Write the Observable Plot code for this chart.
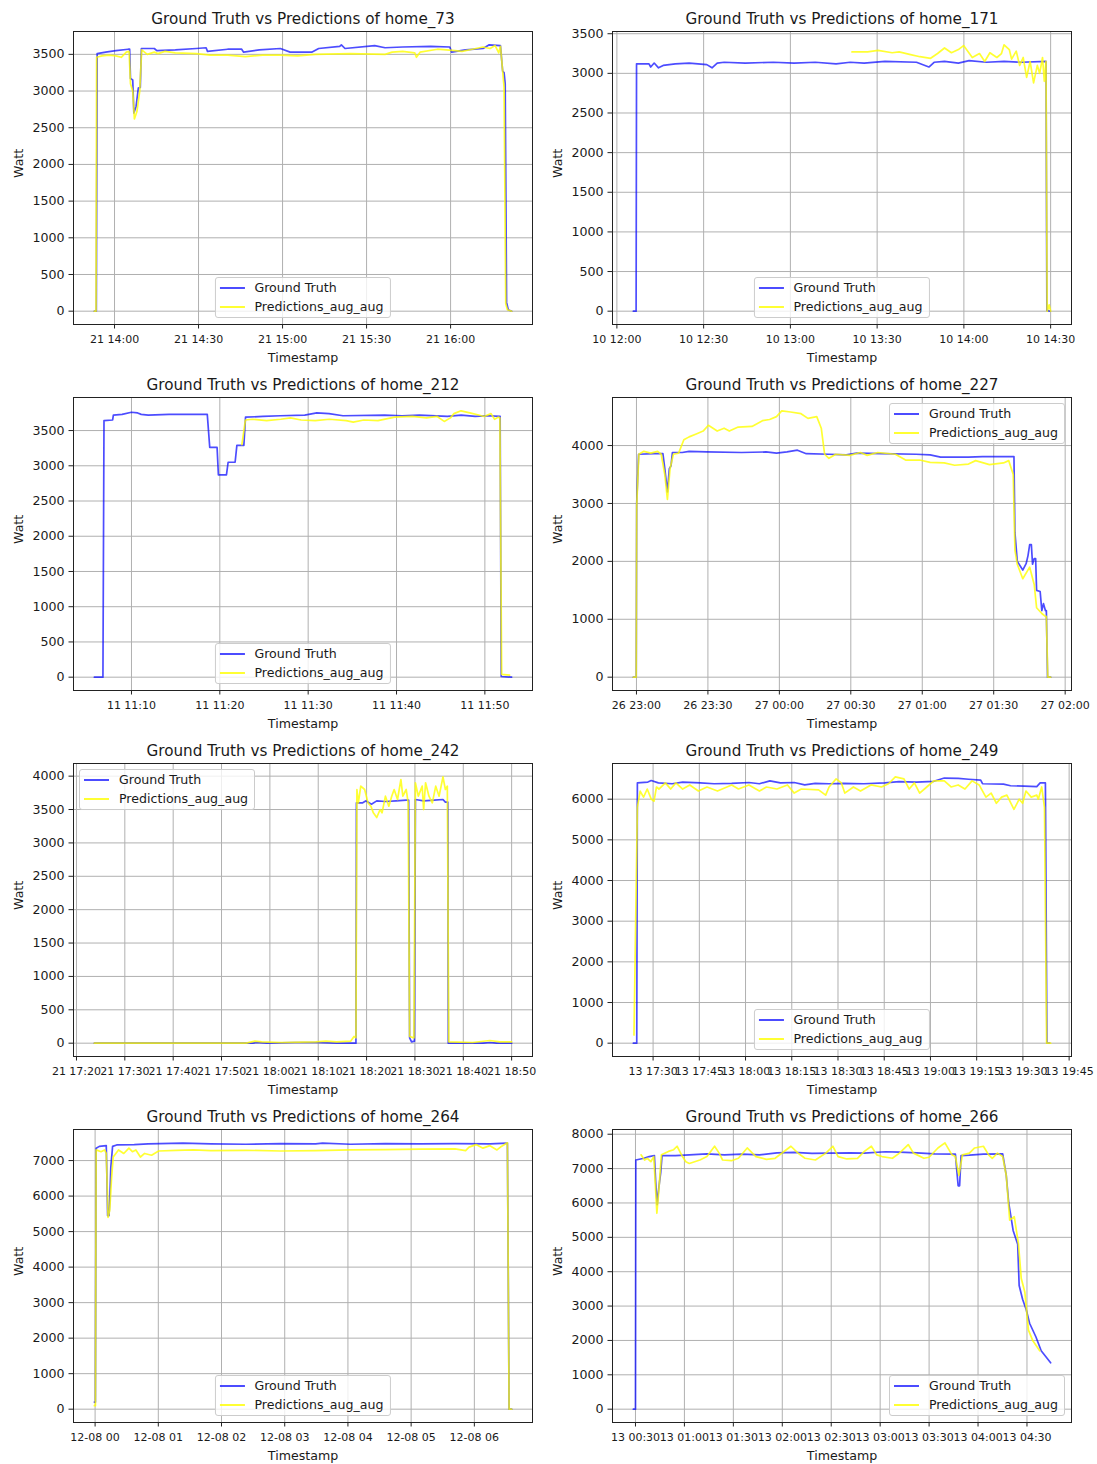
<!DOCTYPE html>
<html>
<head>
<meta charset="utf-8">
<script src="https://cdn.jsdelivr.net/npm/d3@7"></script>
<script src="https://cdn.jsdelivr.net/npm/@observablehq/plot@0.6"></script>
<style>
  body { margin: 0; background: #fff; font-family: "DejaVu Sans", sans-serif; }
  #grid { position: relative; width: 1097px; height: 1464px; }
  .panel { position: absolute; height: 366px; }
  .panel svg { display: block; }
  .legend {
    position: absolute; box-sizing: border-box;
    background: rgba(255,255,255,0.8); border: 1px solid #cccccc; border-radius: 3px;
    padding: 0 6px 1px 4px; font-size: 12.6px; color: #1a1a1a; white-space: nowrap;
  }
  .legend .row { display: flex; align-items: center; height: 19px; }
  .legend .swatch { display: inline-block; width: 25px; height: 0; border-top: 2px solid; margin-right: 10px; }
</style>
</head>
<body>
<div id="grid"></div>
<script>
// Series are [minutes after the panel's base time, watts].
const homes = ["home_73", "home_171", "home_212", "home_227", "home_242", "home_249", "home_264", "home_266"];
const baseTimes = [
  "2023-03-21T13:00:00Z", "2023-03-10T12:00:00Z", "2023-03-11T11:00:00Z", "2023-03-26T22:00:00Z",
  "2023-03-21T17:00:00Z", "2023-03-13T17:00:00Z", "2023-12-08T00:00:00Z", "2023-03-13T00:00:00Z"
];

const home73Truth = [[52.8,0],[53.5,0],[53.8,3510],[56.8,3530],[60.5,3550],[64.9,3570],[65.4,3570],[65.7,3170],[66.5,3150],[66.9,2700],[67.7,2790],[68.5,3040],[69.2,3050],[69.6,3580],[74.2,3580],[75.1,3550],[81.7,3560],[89.2,3580],[92.7,3590],[93.2,3540],[100.4,3570],[105.4,3570],[106.1,3530],[111.7,3560],[119.2,3580],[122.7,3530],[130.4,3530],[132.9,3580],[140.4,3610],[141.0,3630],[142.3,3580],[152.9,3620],[156.6,3590],[162.9,3600],[172.9,3610],[179.7,3600],[180.4,3530],[185.3,3560],[191.6,3580],[193.8,3630],[197.8,3620],[198.6,3270],[199.1,3250],[199.5,3100],[200.0,120],[200.6,20],[201.8,0]];
const home73Pred = [[52.8,0],[53.4,0],[53.6,3460],[55.5,3480],[58.0,3490],[60.5,3480],[62.4,3460],[64.2,3530],[65.2,3540],[65.7,3100],[66.5,3000],[67.1,2620],[68.0,2720],[69.0,3000],[69.7,3560],[71.7,3500],[74.2,3530],[75.5,3510],[78.0,3540],[81.7,3520],[89.2,3510],[94.2,3490],[100.4,3490],[106.7,3470],[112.9,3490],[119.2,3490],[125.4,3480],[131.7,3500],[144.1,3510],[156.6,3500],[159.1,3530],[162.9,3540],[167.2,3520],[167.8,3460],[169.1,3530],[175.3,3570],[181.6,3550],[184.1,3540],[187.8,3570],[191.6,3600],[194.1,3580],[195.9,3620],[197.2,3520],[197.8,3610],[198.3,3400],[199.1,3050],[199.7,100],[200.3,20],[201.8,0]];

const home171Truth = [[5.7,0],[6.65,0],[6.8,3120],[11.1,3120],[11.7,3080],[12.9,3130],[14.4,3070],[16.0,3100],[20.2,3120],[25.0,3130],[31.1,3110],[32.9,3070],[34.7,3130],[37.1,3140],[44.4,3130],[54.1,3140],[61.3,3130],[68.6,3140],[75.8,3120],[80.7,3140],[85.5,3130],[92.7,3150],[103.6,3140],[107.9,3080],[109.7,3140],[113.3,3150],[118.1,3130],[121.8,3160],[127.8,3140],[133.9,3150],[139.9,3140],[148.4,3150],[148.7,10],[149.8,0]];
const home171Pred = [[81.3,3270],[86.7,3270],[90.3,3290],[95.2,3260],[97.6,3270],[101.2,3240],[104.8,3210],[108.5,3190],[110.9,3250],[113.3,3320],[115.7,3260],[118.1,3300],[119.9,3350],[122.9,3200],[125.4,3250],[127.2,3150],[129.0,3260],[131.4,3200],[133.0,3250],[133.9,3360],[135.7,3300],[136.5,3180],[138.1,3280],[139.3,3100],[140.5,3200],[141.7,2950],[142.9,3150],[144.1,2880],[145.4,3100],[146.2,3000],[147.2,3200],[147.8,2900],[148.4,3150],[148.8,0],[149.5,80],[150.0,0]];

const home212Truth = [[5.8,0],[6.77,0],[6.89,3640],[7.87,3650],[7.95,3720],[8.94,3730],[10.0,3760],[10.7,3750],[11.1,3730],[11.9,3720],[14.25,3730],[18.58,3730],[18.86,3260],[19.69,3260],[19.84,2870],[20.75,2870],[20.94,3050],[21.73,3050],[21.93,3290],[22.72,3290],[22.91,3690],[24.88,3700],[26.85,3710],[29.61,3720],[30.98,3750],[32.36,3740],[33.94,3710],[38.66,3720],[40.63,3710],[42.6,3720],[45.75,3700],[47.32,3720],[48.9,3700],[50.47,3710],[51.73,3700],[51.85,10],[53.03,0]];
const home212Pred = [[22.5,3300],[22.9,3650],[23.7,3660],[25.3,3640],[26.9,3660],[28.0,3680],[29.2,3650],[30.8,3640],[32.4,3660],[34.3,3640],[35.1,3620],[36.3,3650],[37.9,3640],[39.8,3690],[41.8,3700],[43.4,3680],[44.6,3700],[45.4,3630],[46.1,3680],[46.5,3740],[47.3,3780],[48.3,3750],[49.3,3720],[49.9,3700],[50.7,3740],[51.1,3660],[51.5,3690],[51.7,3680],[51.9,40],[52.8,30]];

const home227Truth = [[58.7,0],[59.9,0],[60.1,3000],[60.9,3850],[67.5,3860],[71.1,3860],[71.9,3600],[73.0,3200],[73.8,3600],[74.5,3650],[75.1,3880],[79.2,3880],[82.1,3900],[89.5,3890],[104.1,3880],[114.4,3890],[118.8,3870],[123.2,3890],[127.6,3920],[131.3,3860],[140.8,3850],[148.1,3840],[152.5,3870],[162.8,3860],[177.4,3850],[183.3,3840],[187.7,3800],[199.4,3800],[205.3,3810],[218.5,3810],[218.9,2500],[219.9,2000],[222.2,1850],[223.6,1960],[224.4,2100],[225.1,2290],[225.8,2290],[226.3,1950],[227.0,2050],[227.6,2050],[228.0,1500],[229.5,1480],[230.2,1150],[230.9,1270],[231.7,1150],[232.1,1150],[232.6,0],[233.9,0]];
const home227Pred = [[58.7,0],[59.9,0],[60.1,2950],[61.0,3850],[63.1,3900],[66.0,3870],[68.9,3900],[70.4,3850],[71.9,3500],[73.0,3070],[74.1,3600],[75.5,3850],[77.7,3870],[79.9,4100],[82.1,4150],[85.1,4200],[88.0,4250],[90.2,4350],[93.9,4250],[96.8,4300],[99.0,4250],[102.7,4320],[108.5,4330],[112.9,4430],[115.9,4450],[118.8,4500],[121.0,4600],[124.7,4580],[129.1,4550],[132.0,4470],[135.7,4500],[137.6,4300],[139.0,3850],[140.8,3780],[143.7,3850],[149.6,3830],[154.0,3880],[156.9,3830],[161.3,3880],[168.7,3850],[173.0,3750],[178.9,3750],[183.3,3710],[189.2,3700],[193.6,3660],[199.4,3680],[202.4,3740],[208.2,3670],[214.1,3700],[216.3,3740],[218.2,3500],[218.9,2200],[219.9,1950],[222.2,1700],[225.1,1900],[227.0,1600],[228.0,1200],[230.2,1100],[231.7,1050],[232.1,1050],[232.7,0],[233.9,0]];

const home242Truth = [[23.7,0],[56.5,0],[57.2,10],[59.4,0],[65.2,10],[69.5,10],[73.8,0],[77.8,0],[77.9,3600],[79.2,3600],[79.9,3630],[81.0,3580],[82.1,3630],[83.9,3620],[86.1,3630],[88.2,3640],[88.7,3640],[88.9,80],[89.3,20],[89.9,30],[90.1,3650],[91.8,3630],[94.0,3640],[95.8,3650],[96.3,3610],[96.8,3610],[96.9,0],[104.1,0],[105.5,10],[106.9,0],[110.0,0]];
const home242Pred = [[23.7,0],[55.1,0],[56.9,30],[58.3,20],[62.3,10],[69.5,20],[71.6,30],[73.8,20],[76.7,30],[77.4,100],[77.8,80],[78.0,3800],[78.3,3600],[78.8,3850],[79.6,3800],[80.3,3600],[80.9,3550],[81.4,3450],[82.1,3380],[82.8,3500],[83.2,3450],[83.9,3700],[84.6,3550],[85.2,3700],[85.7,3800],[86.4,3650],[87.1,3950],[87.5,3700],[88.2,3800],[88.6,3600],[88.9,100],[89.8,80],[90.1,3900],[90.7,3700],[91.5,3850],[91.8,3500],[92.2,3900],[92.9,3700],[93.6,3600],[94.3,3850],[95.0,3700],[95.8,3990],[96.3,3800],[96.7,3850],[97.0,20],[101.9,10],[105.5,40],[107.6,20],[110.0,20]];

const home249Truth = [[23.6,0],[24.7,0],[24.9,6400],[28.3,6420],[29.4,6460],[31.7,6400],[36.2,6380],[39.6,6420],[45.3,6400],[49.8,6380],[55.5,6390],[61.1,6410],[64.5,6380],[67.9,6450],[71.3,6400],[75.8,6410],[79.2,6350],[82.6,6390],[87.1,6380],[91.7,6390],[98.4,6380],[105.2,6400],[109.8,6430],[115.4,6420],[121.1,6440],[124.5,6520],[129.0,6510],[132.4,6490],[136.3,6470],[136.9,6380],[143.7,6370],[146.0,6330],[150.5,6320],[154.5,6310],[155.6,6400],[157.3,6400],[157.8,0],[158.7,0]];
const home249Pred = [[23.8,200],[24.9,5800],[25.8,6200],[26.9,6050],[28.1,6250],[29.4,6000],[30.3,5950],[31.1,6300],[31.9,6250],[34.0,6400],[35.7,6250],[37.4,6400],[39.6,6250],[41.9,6350],[44.7,6200],[47.5,6300],[50.9,6200],[55.5,6350],[57.7,6250],[61.1,6350],[64.5,6200],[66.8,6300],[70.2,6250],[73.6,6350],[75.8,6150],[78.1,6250],[83.7,6230],[86.0,6100],[87.1,6300],[89.4,6500],[91.1,6400],[92.2,6150],[95.0,6300],[97.3,6200],[100.7,6350],[104.1,6300],[106.4,6380],[108.6,6550],[111.4,6500],[113.1,6250],[114.8,6400],[116.5,6150],[118.8,6300],[121.1,6450],[124.5,6450],[126.7,6300],[129.0,6350],[131.2,6250],[133.5,6450],[135.8,6350],[138.0,6050],[139.7,6150],[141.4,5900],[143.1,6050],[144.8,6100],[147.1,5750],[148.8,6000],[149.9,5900],[151.0,6200],[152.7,6050],[154.5,6100],[155.0,6000],[156.1,6300],[157.0,5800],[157.7,0],[159.0,0]];

const home264Truth = [[-0.7,200],[0.3,200],[1.0,7350],[4.0,7400],[10.6,7420],[11.3,6400],[11.9,5450],[13.2,5450],[13.9,5900],[14.9,6800],[16.6,7400],[20.5,7440],[37.1,7450],[50.3,7470],[83.4,7490],[109.9,7470],[143.0,7460],[176.2,7480],[209.3,7470],[215.9,7490],[242.4,7460],[275.5,7480],[308.6,7470],[341.7,7480],[374.8,7470],[391.4,7490],[393.0,0],[395.4,0]];
const home264Pred = [[-0.7,100],[0.3,100],[1.0,7300],[5.6,7250],[8.9,7300],[10.6,7200],[12.3,5400],[13.9,5600],[15.6,6500],[17.2,7100],[22.2,7300],[27.2,7200],[32.1,7350],[35.4,7250],[38.7,7300],[43.0,7100],[47.0,7200],[53.6,7150],[60.3,7270],[76.8,7290],[93.4,7300],[109.9,7280],[143.0,7290],[176.2,7270],[209.3,7280],[242.4,7300],[275.5,7310],[308.6,7320],[341.7,7330],[351.7,7280],[355.0,7380],[361.6,7450],[368.2,7350],[374.8,7420],[381.5,7300],[384.8,7380],[391.4,7500],[393.0,0],[395.4,0]];

const home266Truth = [[28.7,0],[30.0,0],[30.2,7250],[35.2,7300],[38.4,7350],[41.6,7380],[42.4,6600],[43.3,5950],[44.2,6400],[45.5,6900],[46.3,7380],[54.5,7380],[63.0,7400],[73.8,7430],[84.5,7400],[95.2,7420],[106.0,7400],[116.7,7460],[127.4,7470],[138.2,7440],[148.9,7450],[161.8,7460],[170.3,7450],[183.2,7490],[191.8,7480],[202.5,7460],[213.3,7430],[226.1,7420],[227.8,6500],[228.7,6500],[229.6,7380],[234.7,7390],[243.3,7420],[255.1,7430],[257.3,6800],[258.8,6000],[261.5,5200],[264.3,4800],[265.2,3600],[267.3,3200],[269.5,2900],[271.6,2500],[275.5,2100],[278.7,1700],[284.5,1350]];
const home266Pred = [[33.4,7400],[35.6,7250],[37.3,7300],[39.4,7200],[41.2,7350],[42.2,6500],[43.1,5700],[44.2,6300],[45.9,7400],[50.2,7500],[53.4,7550],[55.5,7650],[58.8,7350],[60.9,7200],[63.0,7150],[69.5,7250],[73.8,7350],[78.5,7650],[81.3,7450],[83.4,7250],[88.8,7230],[93.1,7300],[98.5,7600],[103.8,7350],[110.3,7270],[115.6,7300],[125.3,7650],[129.6,7450],[133.9,7300],[140.3,7250],[146.7,7450],[151.0,7650],[154.2,7350],[159.6,7280],[166.1,7300],[170.3,7500],[174.6,7650],[177.9,7400],[181.1,7350],[187.5,7300],[191.8,7450],[197.2,7700],[200.4,7450],[206.8,7300],[210.0,7330],[215.4,7600],[219.7,7750],[224.0,7400],[226.1,7350],[228.3,6800],[230.4,7400],[234.7,7450],[237.9,7600],[243.3,7650],[246.5,7400],[248.7,7300],[251.9,7450],[255.1,7350],[257.3,6800],[259.4,5500],[262.2,5600],[264.8,4800],[266.5,3800],[268.7,3400],[270.9,2300],[273.5,2000],[277.8,1700]];

// Tick positions: x in minutes after the base time, y in watts.
const home73TicksX = [60, 90, 120, 150, 180];
const home171TicksX = [0, 30, 60, 90, 120, 150];
const home212TicksX = [10, 20, 30, 40, 50];
const home227TicksX = [60, 90, 120, 150, 180, 210, 240];
const home242TicksX = [20, 30, 40, 50, 60, 70, 80, 90, 100, 110];
const home249TicksX = [30, 45, 60, 75, 90, 105, 120, 135, 150, 165];
const home264TicksX = [0, 60, 120, 180, 240, 300, 360];
const home266TicksX = [30, 60, 90, 120, 150, 180, 210, 240, 270];
const ticksTo3500By500 = [0, 500, 1000, 1500, 2000, 2500, 3000, 3500];
const ticksTo4000By500 = [0, 500, 1000, 1500, 2000, 2500, 3000, 3500, 4000];
const ticksTo4000By1000 = [0, 1000, 2000, 3000, 4000];
const ticksTo6000 = [0, 1000, 2000, 3000, 4000, 5000, 6000];
const ticksTo7000 = [0, 1000, 2000, 3000, 4000, 5000, 6000, 7000];
const ticksTo8000 = [0, 1000, 2000, 3000, 4000, 5000, 6000, 7000, 8000];

const seriesLabels = ["Ground Truth", "Predictions_aug_aug"];

const dayMinute = d3.utcFormat("%d %H:%M");
const monthDayHour = d3.utcFormat("%m-%d %H");
const plainNumber = d3.format("d");

const panels = [
  {truth: home73Truth, pred: home73Pred, ticksX: home73TicksX, ticksY: ticksTo3500By500, fmt: dayMinute, legend: "lower center"},
  {truth: home171Truth, pred: home171Pred, ticksX: home171TicksX, ticksY: ticksTo3500By500, fmt: dayMinute, legend: "lower center"},
  {truth: home212Truth, pred: home212Pred, ticksX: home212TicksX, ticksY: ticksTo3500By500, fmt: dayMinute, legend: "lower center"},
  {truth: home227Truth, pred: home227Pred, ticksX: home227TicksX, ticksY: ticksTo4000By1000, fmt: dayMinute, legend: "upper right"},
  {truth: home242Truth, pred: home242Pred, ticksX: home242TicksX, ticksY: ticksTo4000By500, fmt: dayMinute, legend: "upper left"},
  {truth: home249Truth, pred: home249Pred, ticksX: home249TicksX, ticksY: ticksTo6000, fmt: dayMinute, legend: "lower center"},
  {truth: home264Truth, pred: home264Pred, ticksX: home264TicksX, ticksY: ticksTo7000, fmt: monthDayHour, legend: "lower center"},
  {truth: home266Truth, pred: home266Pred, ticksX: home266TicksX, ticksY: ticksTo8000, fmt: dayMinute, legend: "lower right"}
];

const truthColor = "blue", truthOpacity = 0.7;
const predColor = "yellow", predOpacity = 0.8;
const textColor = "#1a1a1a";

// Matplotlib-style autoscaling: data extent padded by 5% on each side.
function padded([lo, hi]) {
  const pad = (hi - lo) * 0.05;
  return [lo - pad, hi + pad];
}

const grid = document.getElementById("grid");
const rowHeight = 366, frameTop = 31, frameBottom = 42;

panels.forEach((p, i) => {
  const col = i % 2, row = Math.floor(i / 2);
  const width = col === 0 ? 548 : 549;
  const marginLeft = col === 0 ? 73 : 64;
  const marginRight = col === 0 ? 16 : 26;
  const base = Date.parse(baseTimes[i]);
  const at = (m) => new Date(base + m * 60000);
  const toRows = (pairs) => pairs.map(([m, w]) => ({time: at(m), watt: w}));
  const truth = toRows(p.truth), pred = toRows(p.pred);
  const all = p.truth.concat(p.pred);
  const xDom = padded(d3.extent(all, (d) => d[0])).map(at);
  const yDom = padded(d3.extent(all, (d) => d[1]));
  const xTicks = p.ticksX.map(at);

  const chart = Plot.plot({
    width, height: rowHeight,
    marginLeft, marginRight, marginTop: frameTop, marginBottom: frameBottom,
    style: {fontFamily: "DejaVu Sans, sans-serif", fontSize: "12.6px", color: textColor, background: "white", overflow: "visible"},
    x: {type: "utc", domain: xDom},
    y: {domain: yDom},
    marks: [
      Plot.gridX(xTicks, {stroke: "#b0b0b0", strokeOpacity: 1, strokeWidth: 1}),
      Plot.gridY(p.ticksY, {stroke: "#b0b0b0", strokeOpacity: 1, strokeWidth: 1}),
      Plot.line(truth, {x: "time", y: "watt", stroke: truthColor, strokeOpacity: truthOpacity, strokeWidth: 1.7}),
      Plot.line(pred, {x: "time", y: "watt", stroke: predColor, strokeOpacity: predOpacity, strokeWidth: 1.7}),
      Plot.frame({stroke: "#222", strokeWidth: 1}),
      Plot.axisX(xTicks, {tickFormat: p.fmt, tickSize: 4.5, tickPadding: 6.5, fontSize: 11, label: null, stroke: "#222"}),
      Plot.axisY(p.ticksY, {tickFormat: plainNumber, tickSize: 4.5, tickPadding: 4.5, fontSize: 12.6, label: null, stroke: "#222"}),
      Plot.text([`Ground Truth vs Predictions of ${homes[i]}`], {frameAnchor: "top", lineAnchor: "middle", dy: -12.5, fontSize: 15.2, fill: textColor}),
      Plot.text(["Timestamp"], {frameAnchor: "bottom", lineAnchor: "middle", dy: 33, fontSize: 12.6, fill: textColor}),
      Plot.text(["Watt"], {frameAnchor: "left", lineAnchor: "middle", dx: -55, rotate: -90, fontSize: 12.6, fill: textColor})
    ]
  });

  const panel = document.createElement("div");
  panel.className = "panel";
  panel.style.left = (col === 0 ? 0 : 548) + "px";
  panel.style.top = row * rowHeight + "px";
  panel.style.width = width + "px";
  panel.appendChild(chart);

  // Legend box, placed inside the axes frame like matplotlib's loc options.
  const legend = document.createElement("div");
  legend.className = "legend";
  legend.innerHTML =
    `<div class="row"><span class="swatch" style="border-top-color: rgba(0,0,255,${truthOpacity})"></span>${seriesLabels[0]}</div>` +
    `<div class="row"><span class="swatch" style="border-top-color: rgba(255,255,0,${predOpacity})"></span>${seriesLabels[1]}</div>`;
  const frameLeft = marginLeft, frameRight = width - marginRight;
  const gap = 6;
  if (p.legend.startsWith("lower")) legend.style.bottom = (frameBottom + gap) + "px";
  else legend.style.top = (frameTop + gap) + "px";
  if (p.legend.endsWith("center")) {
    legend.style.left = (frameLeft + frameRight) / 2 + "px";
    legend.style.transform = "translateX(-50%)";
  } else if (p.legend.endsWith("right")) {
    legend.style.right = (marginRight + gap) + "px";
  } else {
    legend.style.left = (frameLeft + gap) + "px";
  }
  panel.appendChild(legend);
  grid.appendChild(panel);
});
</script>
</body>
</html>
